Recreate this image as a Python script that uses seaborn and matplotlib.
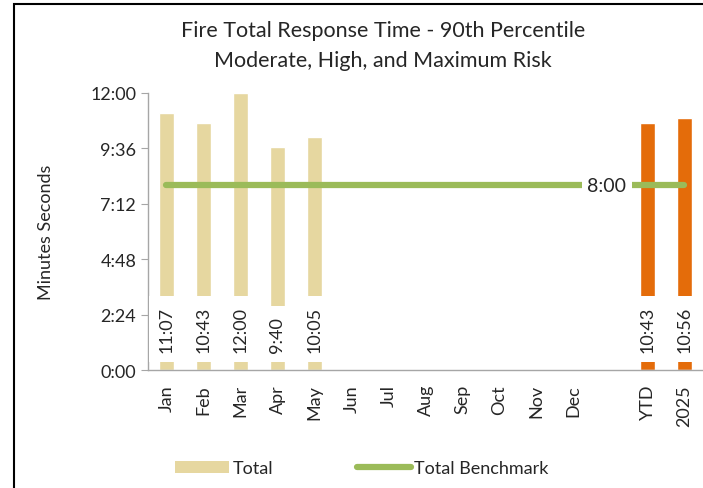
import matplotlib
matplotlib.use("Agg")
import matplotlib.pyplot as plt
import numpy as np
import seaborn as sns
from matplotlib.patches import Patch, Rectangle
from matplotlib.lines import Line2D
from matplotlib.ticker import FuncFormatter, MultipleLocator

# data (seconds)
categories = ["Jan", "Feb", "Mar", "Apr", "May", "Jun", "Jul", "Aug", "Sep",
              "Oct", "Nov", "Dec", " ", "YTD", "2025"]
totals = [667, 643, 720, 580, 605, np.nan, np.nan, np.nan, np.nan,
          np.nan, np.nan, np.nan, np.nan, 643, 656]
benchmark = [480] * 15
bar_colors = ["#E6D7A0"] * 13 + ["#E46C0A", "#E46C0A"]


def mmss(v, pos=None):
    v = int(round(v))
    return f"{v // 60}:{v % 60:02d}"


sns.set_style("white")
plt.rcParams["font.family"] = ["Lato", "DejaVu Sans"]

fig = plt.figure(figsize=(7.03, 4.89), dpi=100)
ax = fig.add_axes([0.2105, 0.2413, 0.7895, 0.5665])

sns.barplot(x=categories, y=totals, hue=categories, palette=bar_colors,
            order=categories, legend=False, width=0.4, saturation=1, ax=ax)

pos = list(range(len(categories)))
sns.lineplot(x=pos, y=benchmark, color="#9BBB59", linewidth=4.5,
             solid_capstyle="round", ax=ax)

# data labels inside the bars
for i, v in enumerate(totals):
    if not np.isnan(v):
        ax.text(i, 47, mmss(v), rotation=90, ha="center", va="bottom",
                fontsize=13, color="#262626",
                bbox=dict(facecolor="white", edgecolor="none", pad=7))

ax.text(11.9, 480, "8:00", ha="center", va="center", fontsize=14,
        color="#262626",
        bbox=dict(facecolor="white", edgecolor="none", pad=4))

ax.set_ylim(0, 720)
ax.set_xlim(-0.5, len(categories) - 0.5)
ax.yaxis.set_major_locator(MultipleLocator(144))
ax.yaxis.set_major_formatter(FuncFormatter(mmss))
ax.set_ylabel("Minutes Seconds", fontsize=13, color="#262626", labelpad=26)

ax.set_xticks(pos)
ax.set_xticklabels(categories, rotation=90, fontsize=13, color="#262626")
ax.set_xticks(np.arange(-0.5, len(categories)), minor=True)
ax.tick_params(axis="x", which="major", length=0, pad=10)
ax.tick_params(axis="x", which="minor", length=5, color="#A6A6A6", width=1)
ax.tick_params(axis="y", length=5, color="#A6A6A6", labelsize=13,
               labelcolor="#262626", left=True)

for s in ["top", "right"]:
    ax.spines[s].set_visible(False)
for s in ["left", "bottom"]:
    ax.spines[s].set_color("#A6A6A6")
    ax.spines[s].set_linewidth(1)

fig.text(0.545, 0.937, "Fire Total Response Time - 90th Percentile",
         ha="center", va="center", fontsize=15.5, color="#262626")
fig.text(0.545, 0.875, "Moderate, High, and Maximum Risk",
         ha="center", va="center", fontsize=15.5, color="#262626")

handles = [Patch(facecolor="#E6D7A0", edgecolor="none", label="Total"),
           Line2D([0], [0], color="#9BBB59", linewidth=4.5,
                  solid_capstyle="round", label="Total Benchmark")]
fig.legend(handles=handles, loc="center", bbox_to_anchor=(0.515, 0.04),
           ncol=2, frameon=False, fontsize=13, columnspacing=4.6,
           handlelength=3.0, handletextpad=0.2)

# outer chart border
fig.patches.append(Rectangle((14 / 703, -0.05), 1.1, 1 - 5 / 489 + 0.05,
                             transform=fig.transFigure, fill=False,
                             edgecolor="black", linewidth=1.5))

fig.savefig("out.png", dpi=100)
